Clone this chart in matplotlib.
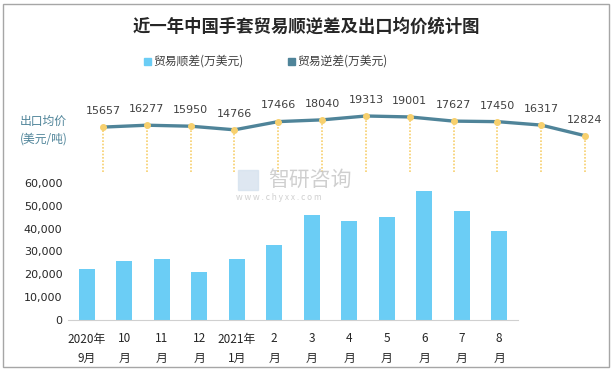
import matplotlib.pyplot as plt
from matplotlib.patches import Rectangle

plt.rcParams['font.family'] = ['Noto Sans CJK SC', 'DejaVu Sans']

months = ["2020年\n9月", "10\n月", "11\n月", "12\n月", "2021年\n1月", "2\n月",
          "3\n月", "4\n月", "5\n月", "6\n月", "7\n月", "8\n月"]
surplus = [22500, 26000, 26900, 21100, 26900, 33000, 45800, 43200, 44900, 56400, 47600, 38800]
deficit = [0] * 12
avg_price = [15657, 16277, 15950, 14766, 17466, 18040, 19313, 19001, 17627, 17450, 16317, 12824]

BAR_COLOR = "#6bcdf5"
LINE_COLOR = "#4f8499"
GOLD = "#f7d06e"

W, H = 613, 370
fig = plt.figure(figsize=(W / 100, H / 100), dpi=100)
fig.patches.append(Rectangle((3 / W, 3 / H), 606 / W, 363 / H, transform=fig.transFigure,
                             fill=False, edgecolor="#a6a6a6", linewidth=1))

fig.text(0.5, 1 - 27 / H, "近一年中国手套贸易顺逆差及出口均价统计图", ha="center", va="center",
         fontsize=12.5, fontweight="bold", color="#262626")

# legend
fig.patches.append(Rectangle((144 / W, 1 - 65 / H), 7 / W, 7 / H, transform=fig.transFigure,
                             color=BAR_COLOR))
fig.text(153 / W, 1 - 61 / H, "贸易顺差(万美元)", va="center", fontsize=8.5, color="#404040")
fig.patches.append(Rectangle((288 / W, 1 - 65 / H), 7 / W, 7 / H, transform=fig.transFigure,
                             color=LINE_COLOR))
fig.text(297 / W, 1 - 61 / H, "贸易逆差(万美元)", va="center", fontsize=8.5, color="#404040")

fig.text(20 / W, 1 - 130 / H, "出口均价\n(美元/吨)", va="center", ha="left", fontsize=8.5,
         color=LINE_COLOR, linespacing=1.5)

# watermark
fig.text(268 / W, 1 - 180 / H, "智研咨询", va="center", ha="left", fontsize=15,
         color="#c4c4c4", alpha=0.8)
fig.text(236 / W, 1 - 198 / H, "w w w . c h y x x . c o m", va="center", ha="left", fontsize=6,
         color="#c4c4c4", alpha=0.8)
fig.patches.append(Rectangle((238 / W, 1 - 190 / H), 20 / W, 20 / H, transform=fig.transFigure,
                             color="#d6e2ee", alpha=0.8))

# bars
ax = fig.add_axes([68 / W, 50 / H, 450 / W, 137 / H])
x = list(range(len(months)))
ax.bar(x, surplus, width=0.42, color=BAR_COLOR, zorder=2)
ax.set_xlim(-0.5, 11.5)
ax.set_ylim(0, 60000)
ax.set_yticks(range(0, 60001, 10000))
ax.set_yticklabels([f"{v:,}" for v in range(0, 60001, 10000)], fontsize=8, color="#262626",
                   family=["DejaVu Sans"])
ax.set_xticks(x)
ax.set_xticklabels(months, fontsize=8.5, color="#262626", linespacing=1.6)
ax.tick_params(axis="y", length=0, pad=4)
ax.tick_params(axis="x", length=0, pad=9)
for s in ["top", "right", "left"]:
    ax.spines[s].set_visible(False)
ax.spines["bottom"].set_color("#d0d0d0")
ax.patch.set_alpha(0)

# price line
ax2 = fig.add_axes([103 / W, 198 / H, 482 / W, 72 / H])
ax2.set_xlim(0, 11)
ax2.set_ylim(870, 24580)
ax2.axis("off")
ax2.plot(x, avg_price, color=LINE_COLOR, linewidth=2.4, zorder=2, clip_on=False)
ax2.vlines(x, 870, avg_price, colors=GOLD, linestyles=(0, (1, 1)), linewidth=1.2, zorder=1,
           clip_on=False)
ax2.plot(x, avg_price, linestyle="none", marker="o", markersize=4, color=GOLD, zorder=3,
         clip_on=False)
for xi, v in zip(x, avg_price):
    ax2.annotate(str(v), (xi, v), xytext=(0, 8), textcoords="offset points", ha="center",
                 va="bottom", fontsize=8, color="#404040", family=["DejaVu Sans"])

fig.savefig("out.png", dpi=100)
